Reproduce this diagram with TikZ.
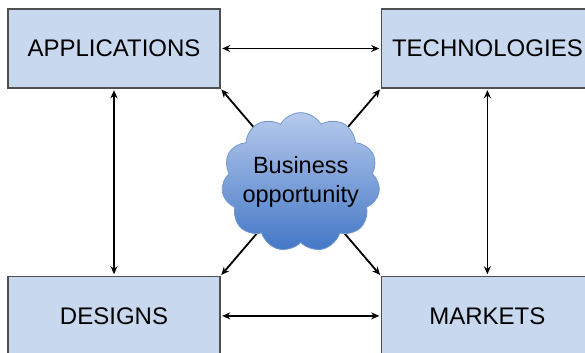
\documentclass[tikz,border=0pt]{standalone}
\usepackage{fontspec}
\setmainfont{Liberation Sans}
\usetikzlibrary{arrows.meta, positioning, shapes.symbols, calc, backgrounds}

\definecolor{boxfill}{HTML}{C8D8EE}
\definecolor{boxline}{HTML}{4F4F4F}
\definecolor{cloudtop}{HTML}{B6CAEC}
\definecolor{cloudbot}{HTML}{4377C6}
\definecolor{cloudline}{HTML}{7296CF}

\begin{document}
\begin{tikzpicture}[
    x=1bp, y=-1bp,
    >={Stealth[length=8bp, width=7bp]},
    area/.style={draw=boxline, line width=1.4bp, fill=boxfill,
                 minimum width=212bp, minimum height=79bp, inner sep=0pt,
                 font=\fontsize{24bp}{29bp}\selectfont},
    link/.style={<->, line width=1.8bp, shorten >=1.5bp, shorten <=1.5bp},
    spoke/.style={->, line width=1.8bp, shorten >=1bp}
  ]
  \clip (0,0) rectangle (585,352);

  \node[area] (apps) at (114,48.5) {APPLICATIONS};
  \node[area, right=160bp of apps] (tech) {TECHNOLOGIES};
  \node[area, below=187bp of apps] (designs) {DESIGNS};
  \node[area, right=160bp of designs] (markets) {MARKETS};

  % the opportunity cloud sits in the middle, puffs overlap the text box
  \node[cloud, cloud puffs=11, cloud puff arc=120, aspect=1.2,
        inner xsep=-7bp, inner ysep=-8bp,
        draw=cloudline, line width=0.8bp,
        top color=cloudtop, bottom color=cloudbot, align=center,
        font=\fontsize{23.5bp}{29bp}\selectfont]
    (biz) at ($(apps)!0.5!(markets)$) {Business\\opportunity};

  \draw[link] (apps) -- (tech);
  \draw[link] (designs) -- (markets);
  \draw[link] (apps) -- (designs);
  \draw[link] (tech) -- (markets);

  \begin{scope}[on background layer]
    \draw[spoke] (biz.center) -- (apps.south east);
    \draw[spoke] (biz.center) -- (tech.south west);
    \draw[spoke] (biz.center) -- (designs.north east);
    \draw[spoke] (biz.center) -- (markets.north west);
  \end{scope}
\end{tikzpicture}
\end{document}
